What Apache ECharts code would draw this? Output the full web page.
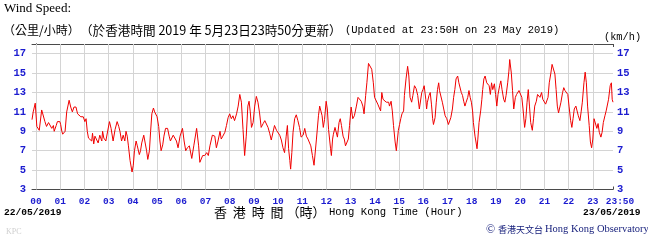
<!DOCTYPE html>
<html>
<head>
<meta charset="utf-8">
<script src="https://cdn.jsdelivr.net/npm/echarts@6/dist/echarts.min.js"></script>
<style>
html,body{margin:0;padding:0;background:#fff;}
#c{width:648px;height:245px;}
</style>
</head>
<body>
<div id="c"></div>
<script>
// minutes after 00:00 on 23/05/2019 (negative = 22/05)
const times = [
-10,-7,-2,2,8,14,17,22,26,31,39,43,45,50,53,59,61,64,66,72,76,82,86,90,94,99,103,107,111,117,121,124,127,130,134,138,140,143,146,150,154,158,163,165,168,173,177,182,186,191,196,201,205,208,212,216,220,223,226,229,233,238,241,244,248,251,256,259,262,267,271,274,277,281,284,287,291,294,297,300,304,307,310,314,317,321,326,330,333,336,340,344,348,352,357,363,367,371,375,380,386,391,398,403,406,413,418,423,427,431,437,443,447,451,456,
459,463,468,472,476,480,484,488,492,497,501,505,509,513,517,521,525,528,531,534,538,542,546,550,554,558,563,567,571,575,579,583,587,591,596,600,604,608,612,616,620,623,626,629,631,634,637,641,645,649,653,657,662,666,670,674,678,681,685,689,691,695,700,703,705,709,712,715,719,722,725,730,732,735,737,741,744,747,751,754,757,761,764,767,771,774,777,781,785,789,794,798,802,806,810,813,817,820,824,828,832,836,839,843,847,851,854,857,860,864,868,870,874,876,880,883,886,890,893,895,898,901,904,907,911,913,917,921,924,927,931,934,938,942,946,950,
956,959,962,966,968,970,974,977,980,983,985,989,992,995,998,1000,1003,1007,1010,1014,1018,1022,1025,1028,1032,1035,1038,1041,1045,1048,1051,1054,1057,1060,1063,1066,1070,1073,1076,1079,1082,1084,1088,1090,1093,1095,1098,1102,1105,1107,1110,1113,1117,1120,1123,1126,1129,1132,1136,1139,1142,1145,1149,1152,1155,1159,1162,1165,1169,1172,1174,1178,1181,1184,1188,1191,1194,1197,1201,1204,1207,1211,1214,1217,1220,1223,1226,1230,1233,1236,1240,1243,1246,1249,1253,1256,1259,1263,1266,1269,1272,1276,1279,1282,1286,1289,1292,1295,1298,1301,1305,1308,1311,1315,1318,1321,1325,1328,1331,1334,1338,1341,1344,1348,1351,1354,1358,1361,1364,1367,1371,1374,1377,1380,1383,1386,1390,1393,1396,1400,1403,1406,1410,1413,1416,1419,1423,1426,1428,1430
];
// wind speed, km/h
const speeds = [
10.2,11.0,11.9,9.5,9.1,11.2,11.0,10.0,9.5,9.9,9.3,9.6,9.0,9.6,10.0,10.0,9.7,9.0,8.7,9.0,11.0,12.2,11.5,11.0,11.5,11.5,10.8,11.0,10.5,10.5,10.0,10.3,9.0,8.3,8.5,8.0,8.8,7.7,8.5,8.7,7.8,8.6,8.0,9.0,8.3,8.0,8.2,10.0,9.3,8.0,9.2,10.0,9.5,9.0,8.0,8.6,8.0,9.0,8.5,7.5,6.0,4.8,5.5,7.0,8.0,7.5,6.6,7.0,7.8,8.6,8.5,7.0,6.1,7.0,9.0,10.8,11.4,11.0,11.0,10.5,9.5,8.0,7.0,7.6,8.5,9.3,9.3,8.5,8.0,7.8,8.6,8.4,8.0,7.3,8.5,9.3,8.0,7.0,7.3,7.5,6.2,7.5,9.3,7.5,5.8,6.5,6.5,6.8,6.5,7.5,8.6,8.5,7.3,8.0,9.0,
8.2,8.5,8.9,9.6,10.4,10.8,10.3,10.6,10.1,10.8,11.6,12.8,12.0,9.2,6.5,8.5,11.6,12.1,11.0,9.4,9.9,11.6,12.6,12.0,10.9,9.4,9.8,10.1,9.9,9.4,8.8,8.1,8.3,9.6,9.1,9.3,8.6,8.1,7.3,6.8,8.5,9.6,7.2,6.0,5.1,6.8,8.9,10.3,10.7,10.1,9.4,8.4,8.6,9.3,8.5,8.2,8.4,7.5,6.5,5.5,5.7,8.2,10.6,11.6,11.8,10.6,9.4,10.2,12.1,11.3,9.2,7.2,6.5,8.2,8.7,9.4,9.6,8.4,9.9,10.3,9.6,8.5,8.2,7.5,7.3,8.2,9.6,11.5,10.3,10.6,11.6,12.5,12.3,12.1,11.6,10.8,12.7,14.0,16.0,16.1,15.4,14.0,12.5,12.3,11.8,12.0,11.1,13.0,12.3,12.5,12.0,12.1,12.0,11.6,12.1,11.1,9.6,7.9,7.0,7.2,9.1,9.7,10.3,10.8,11.1,12.7,14.4,15.7,14.7,12.5,12.0,12.7,13.7,13.4,12.7,11.3,
13.0,13.3,13.7,12.3,11.3,12.0,12.7,13.0,11.8,10.3,9.7,10.4,12.0,13.3,14.0,13.2,13.0,12.0,12.2,10.6,10.3,9.7,9.7,10.4,11.3,12.5,13.3,14.4,14.7,14.0,14.2,13.0,12.7,12.1,11.6,12.0,12.5,13.2,12.5,12.0,11.1,9.9,8.5,8.0,7.2,8.2,9.9,11.1,12.3,13.3,14.4,14.7,14.0,14.2,13.7,12.8,14.0,13.3,13.9,12.8,11.6,12.8,13.7,14.2,13.3,12.3,12.0,12.7,14.0,15.2,16.4,15.0,13.2,11.3,12.5,12.8,12.7,13.2,13.0,12.5,11.3,9.4,10.3,12.0,13.3,11.6,9.9,9.1,10.3,11.6,12.1,12.8,13.0,12.5,13.0,12.3,12.1,11.8,12.0,12.5,14.0,15.0,15.9,15.7,14.9,13.3,11.6,10.9,11.1,12.0,13.0,13.5,13.2,13.3,12.8,11.6,10.1,9.4,10.3,11.3,11.6,11.1,10.6,10.1,11.0,12.0,14.0,15.1,14.0,11.6,9.6,7.9,7.3,8.2,10.3,10.4,9.3,9.8,8.9,8.4,8.9,9.9,10.6,11.1,10.9,12.3,13.7,14.0,12.3,12.0
];
const tickMinutes = [0,60,120,180,240,300,360,420,480,540,600,660,720,780,840,900,960,1020,1080,1140,1200,1260,1320,1380,1430];
const tickLabels = ['00','01','02','03','04','05','06','07','08','09','10','11','12','13','14','15','16','17','18','19','20','21','22','23','23:50'];
const yTicks = [3,5,7,9,11,13,15,17];

const chart = echarts.init(document.getElementById('c'), null, {renderer:'canvas'});
const blue = '#1c1cd0';
const frame = '#4a4a4a';
const gridCol = '#d4d4d4';
const mono = '"Liberation Mono", "DejaVu Sans Mono", monospace';
const cjk = '"Noto Sans CJK TC", "Noto Sans CJK SC", sans-serif';
const serif = '"Liberation Serif", "DejaVu Serif", serif';
const labelMap = {};
tickMinutes.forEach((m,i)=>{labelMap[m]=tickLabels[i];});
const lastMinute = tickMinutes[tickMinutes.length-1];

const data = times.map((t,i)=>[t, speeds[i]]);
const yLabel = v => yTicks.indexOf(v) >= 0 ? String(v) : '';
const gridMarks = tickMinutes.slice(0,-1).map(m=>({xAxis:m}))
  .concat(yTicks.slice(1).map(v=>({yAxis:v})));

chart.setOption({
  animation:false,
  grid:{left:32, right:35, top:44, bottom:55.5, containLabel:false},
  xAxis:[{
    type:'value', min:-10, max:1430, position:'bottom',
    axisLine:{show:true, lineStyle:{color:frame, width:1}},
    axisTick:{show:true, inside:true, length:3, customValues:tickMinutes, lineStyle:{color:frame}},
    axisLabel:{show:true, customValues:tickMinutes, margin:7, color:blue, fontWeight:'bold', fontFamily:mono, fontSize:9.5,
      formatter:v=>{
        const s = labelMap[v]!==undefined?labelMap[v]:'';
        return v===lastMinute ? '{e|'+s+'}' : s;
      },
      rich:{e:{color:blue, fontWeight:'bold', fontFamily:mono, fontSize:9.5, padding:[0,0,0,14]}}
    },
    splitLine:{show:false}
  },{
    type:'value', min:-10, max:1430, position:'top',
    axisLine:{show:true, lineStyle:{color:frame, width:1}},
    axisTick:{show:true, inside:true, length:3, customValues:tickMinutes, lineStyle:{color:frame}},
    axisLabel:{show:false},
    splitLine:{show:false}
  }],
  yAxis:[{
    type:'value', min:3, max:18, interval:2, position:'left',
    axisLine:{show:true, lineStyle:{color:frame, width:1}},
    axisTick:{show:true, inside:true, length:4, lineStyle:{color:frame}},
    axisLabel:{margin:6, color:blue, fontWeight:'bold', fontFamily:mono, fontSize:10.5, formatter:yLabel},
    splitLine:{show:false}
  },{
    type:'value', min:3, max:18, interval:2, position:'right',
    axisLine:{show:true, lineStyle:{color:frame, width:1}},
    axisTick:{show:true, inside:false, length:3, lineStyle:{color:frame}},
    axisLabel:{margin:4, color:blue, fontWeight:'bold', fontFamily:mono, fontSize:10.5, formatter:yLabel},
    splitLine:{show:false}
  }],
  series:[{
    type:'line', xAxisIndex:0, yAxisIndex:0, data:data,
    showSymbol:false, symbol:'none',
    lineStyle:{color:'#f00000', width:1},
    z:3,
    markLine:{
      silent:true, symbol:['none','none'], animation:false, z:1,
      label:{show:false},
      lineStyle:{color:gridCol, width:1, type:'solid'},
      emphasis:{disabled:true},
      data:gridMarks
    }
  }],
  graphic:[
    {type:'text', left:4, top:2, style:{text:'Wind Speed:', font:'13px '+serif, fill:'#000'}},
    {type:'text', left:3, top:24, style:{text:'（公里/小時）', font:'12px '+cjk, fill:'#000'}},
    {type:'text', left:80, top:23.5, style:{text:'（於香港時間 2019 年 5月23日23時50分更新）', font:'12.6px '+cjk, fill:'#000'}},
    {type:'text', left:345, top:25, style:{text:'(Updated at 23:50H on 23 May 2019)', font:'10.5px '+mono, fill:'#000'}},
    {type:'text', left:604, top:32, style:{text:'(km/h)', font:'10.3px '+mono, fill:'#000'}},
    {type:'text', left:4, top:208, style:{text:'22/05/2019', font:'bold 9.6px '+mono, fill:'#000'}},
    {type:'text', left:583, top:208, style:{text:'23/05/2019', font:'bold 9.6px '+mono, fill:'#000'}},
    {type:'text', left:214, top:206, style:{text:'香  港  時  間 （時）', font:'13px '+cjk, fill:'#000'}},
    {type:'text', left:329, top:207, style:{text:'Hong Kong Time (Hour)', font:'10.6px '+mono, fill:'#000'}},
    {type:'text', left:6, top:228, style:{text:'KPC', font:'8px '+serif, fill:'#cfcfcf'}},
    {type:'text', left:486, top:224, style:{text:'©', font:'12px '+serif, fill:'#1a237e'}},
    {type:'text', left:498, top:225, style:{text:'香港天文台', font:'9px '+cjk, fill:'#1a237e'}},
    {type:'text', left:545, top:224, style:{text:'Hong Kong Observatory', font:'10.5px '+serif, fill:'#1a237e'}}
  ]
});
</script>
</body>
</html>
